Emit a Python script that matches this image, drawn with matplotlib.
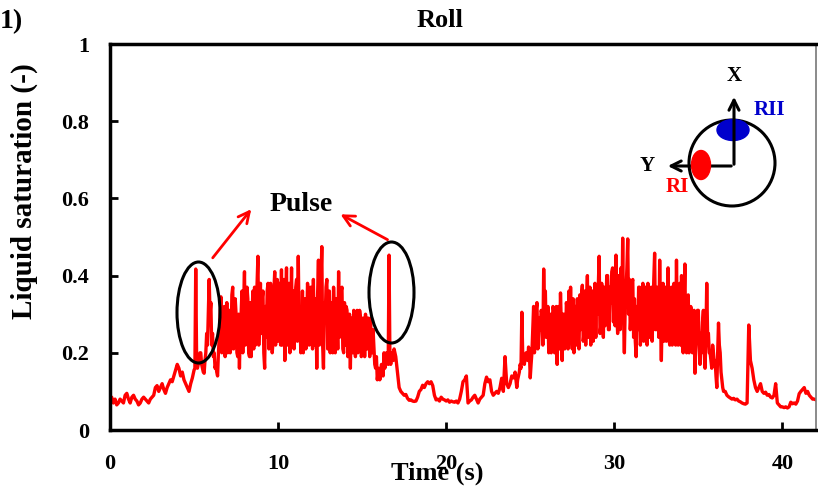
import numpy as np
import matplotlib
matplotlib.use('Agg')
import matplotlib.pyplot as plt
from matplotlib.patches import Ellipse, Circle

plt.rcParams['font.family'] = ['Liberation Serif', 'DejaVu Serif']
plt.rcParams['font.weight'] = 'bold'

# liquid saturation; quiet parts every 0.1 s,
# the two noisy humps every 0.05 s
quiet1_t0, quiet1_dt = 0.0, 0.1
quiet1 = [
    0.075, 0.085, 0.07, 0.08, 0.065, 0.07, 0.08, 0.075, 0.07, 0.09,
    0.095, 0.08, 0.07, 0.085, 0.09, 0.08, 0.075, 0.065, 0.07, 0.08,
    0.085, 0.08, 0.075, 0.07, 0.08, 0.085, 0.09, 0.11, 0.115, 0.10,
    0.11, 0.12, 0.105, 0.095, 0.11, 0.12, 0.13, 0.125, 0.14, 0.155,
    0.17, 0.16, 0.14, 0.15, 0.13, 0.12, 0.11, 0.10, 0.12, 0.135,
]
hump1_t0, hump1_dt = 5.0, 0.05
hump1 = [
    0.155, 0.16, 0.417, 0.2, 0.16, 0.17, 0.18, 0.2, 0.2, 0.17, 0.16, 0.15, 0.147, 0.18, 0.2, 0.25, 0.22, 0.30, 0.39, 0.30,
    0.33, 0.22, 0.25, 0.19, 0.2, 0.16, 0.17, 0.15, 0.14, 0.2, 0.24, 0.3, 0.345, 0.2, 0.21, 0.3, 0.32, 0.19, 0.25, 0.33,
    0.2, 0.3, 0.31, 0.2, 0.22, 0.35, 0.37, 0.21, 0.26, 0.34, 0.3, 0.2, 0.19, 0.3, 0.16, 0.26, 0.3, 0.36, 0.2, 0.32,
    0.41, 0.22, 0.25, 0.37, 0.34, 0.2, 0.19, 0.33, 0.19, 0.3, 0.36, 0.21, 0.37, 0.22, 0.26, 0.38, 0.45, 0.22, 0.3, 0.38,
    0.25, 0.34, 0.36, 0.2, 0.16, 0.32, 0.24, 0.36, 0.38, 0.21, 0.26, 0.38, 0.33, 0.2, 0.23, 0.36, 0.41, 0.22, 0.28, 0.39,
    0.23, 0.33, 0.38, 0.22, 0.415, 0.22, 0.25, 0.39, 0.18, 0.32, 0.42, 0.22, 0.3, 0.38, 0.2, 0.3, 0.42, 0.22, 0.36, 0.21,
    0.26, 0.37, 0.39, 0.23, 0.45, 0.27, 0.3, 0.2, 0.24, 0.36, 0.2, 0.33, 0.34, 0.21, 0.25, 0.38, 0.36, 0.22, 0.3, 0.37,
    0.33, 0.21, 0.39, 0.24, 0.22, 0.34, 0.16, 0.35, 0.44, 0.22, 0.3, 0.39, 0.475, 0.22, 0.16, 0.33, 0.28, 0.37, 0.39, 0.21,
    0.26, 0.36, 0.2, 0.32, 0.33, 0.2, 0.37, 0.3, 0.2, 0.34, 0.3, 0.21, 0.41, 0.24, 0.25, 0.36, 0.37, 0.21, 0.2, 0.33,
    0.22, 0.32, 0.31, 0.19, 0.24, 0.3, 0.16, 0.29, 0.27, 0.2, 0.31, 0.28, 0.19, 0.3, 0.31, 0.2, 0.22, 0.31, 0.29, 0.19,
    0.2, 0.29, 0.28, 0.19, 0.3, 0.22, 0.21, 0.29, 0.26, 0.19, 0.29, 0.21, 0.2, 0.26, 0.215, 0.17, 0.16, 0.19, 0.13, 0.15,
    0.16, 0.13, 0.14, 0.17, 0.15, 0.14, 0.2, 0.16, 0.18, 0.2, 0.2, 0.17, 0.453, 0.2, 0.17, 0.19, 0.2, 0.18, 0.21, 0.2,
]
quiet2_t0, quiet2_dt = 17.0, 0.1
quiet2 = [
    0.19, 0.15, 0.11, 0.1, 0.095, 0.09, 0.092, 0.082, 0.077, 0.078,
    0.075, 0.074, 0.075, 0.085, 0.1, 0.105, 0.116, 0.11, 0.12, 0.125,
    0.12, 0.125, 0.115, 0.09, 0.078, 0.08, 0.075, 0.085, 0.08, 0.078,
    0.075, 0.078, 0.072, 0.075, 0.073, 0.072, 0.075, 0.07, 0.08, 0.1,
    0.125, 0.13, 0.14, 0.07, 0.075, 0.078, 0.085, 0.09, 0.08, 0.07,
    0.08, 0.085, 0.09, 0.12, 0.137, 0.125, 0.13, 0.1, 0.09, 0.095,
    0.1, 0.095, 0.11, 0.134, 0.1, 0.19, 0.12, 0.11, 0.12, 0.14,
]
hump2_t0, hump2_dt = 24.0, 0.05
hump2 = [
    0.135, 0.14, 0.15, 0.13, 0.11, 0.13, 0.14, 0.15, 0.17, 0.16, 0.305, 0.2, 0.18, 0.17, 0.19, 0.2, 0.2, 0.18, 0.215, 0.2,
    0.135, 0.17, 0.2, 0.26, 0.32, 0.2, 0.25, 0.31, 0.33, 0.21, 0.22, 0.29, 0.26, 0.31, 0.3, 0.22, 0.417, 0.3, 0.36, 0.24,
    0.25, 0.32, 0.2, 0.27, 0.3, 0.2, 0.24, 0.32, 0.31, 0.2, 0.26, 0.32, 0.17, 0.27, 0.32, 0.21, 0.355, 0.27, 0.18, 0.3,
    0.3, 0.21, 0.22, 0.33, 0.31, 0.21, 0.36, 0.24, 0.37, 0.25, 0.21, 0.34, 0.2, 0.3, 0.32, 0.22, 0.34, 0.24, 0.21, 0.35,
    0.26, 0.35, 0.375, 0.23, 0.25, 0.36, 0.22, 0.33, 0.4, 0.24, 0.3, 0.37, 0.22, 0.32, 0.36, 0.23, 0.34, 0.38, 0.24, 0.37,
    0.3, 0.38, 0.45, 0.25, 0.27, 0.38, 0.32, 0.24, 0.37, 0.27, 0.3, 0.4, 0.4, 0.26, 0.26, 0.37, 0.33, 0.41, 0.42, 0.28,
    0.36, 0.27, 0.453, 0.3, 0.25, 0.4, 0.38, 0.26, 0.42, 0.3, 0.497, 0.29, 0.2, 0.32, 0.36, 0.42, 0.495, 0.3, 0.39, 0.26,
    0.3, 0.38, 0.39, 0.24, 0.34, 0.23, 0.19, 0.32, 0.26, 0.37, 0.37, 0.22, 0.25, 0.35, 0.38, 0.23, 0.27, 0.37, 0.31, 0.22,
    0.38, 0.25, 0.24, 0.36, 0.37, 0.23, 0.3, 0.39, 0.458, 0.26, 0.26, 0.37, 0.36, 0.24, 0.44, 0.28, 0.18, 0.3, 0.38, 0.23,
    0.3, 0.37, 0.23, 0.32, 0.42, 0.24, 0.22, 0.33, 0.37, 0.22, 0.3, 0.38, 0.37, 0.22, 0.44, 0.27, 0.22, 0.33, 0.38, 0.22,
    0.4, 0.22, 0.2, 0.33, 0.43, 0.22, 0.2, 0.3, 0.35, 0.2, 0.28, 0.32, 0.3, 0.2, 0.25, 0.31, 0.147, 0.22, 0.27, 0.31,
    0.31, 0.22, 0.17, 0.25, 0.2, 0.28, 0.31, 0.2, 0.16, 0.24, 0.38, 0.25, 0.25, 0.2, 0.2, 0.18, 0.16, 0.22, 0.2, 0.17,
    0.18, 0.14, 0.11, 0.2, 0.277, 0.22, 0.2, 0.15, 0.13, 0.11,
]
quiet3_t0, quiet3_dt = 36.5, 0.1
quiet3 = [
    0.1, 0.1, 0.09, 0.086, 0.083,
    0.08, 0.082, 0.078, 0.08, 0.075, 0.073, 0.07, 0.068, 0.067, 0.07,
    0.272, 0.18, 0.16, 0.13, 0.11, 0.1, 0.11, 0.12, 0.1, 0.095,
    0.098, 0.09, 0.092, 0.085, 0.083, 0.09, 0.12, 0.07, 0.065, 0.06,
    0.06, 0.058, 0.06, 0.057, 0.06, 0.072, 0.068, 0.07, 0.067, 0.075,
    0.094, 0.1, 0.105, 0.11, 0.095, 0.1, 0.09, 0.085, 0.08, 0.08,
    0.078,
]

segments = [
    (quiet1_t0, quiet1_dt, quiet1),
    (hump1_t0, hump1_dt, hump1),
    (quiet2_t0, quiet2_dt, quiet2),
    (hump2_t0, hump2_dt, hump2),
    (quiet3_t0, quiet3_dt, quiet3),
]
time_s = np.concatenate([t0 + dt * np.arange(len(v)) for t0, dt, v in segments])
saturation = np.concatenate([np.array(v) for _, _, v in segments])

x_ticks = [0, 10, 20, 30, 40]
y_ticks = [0, 0.2, 0.4, 0.6, 0.8, 1.0]
y_tick_labels = ['0', '0.2', '0.4', '0.6', '0.8', '1']

fig = plt.figure(figsize=(8.18, 4.98), dpi=100)
ax = fig.add_axes([110 / 818, 1 - 430 / 498, 706 / 818, 386 / 498])
ax.plot(time_s, saturation, color='#ff0000', lw=2.4)
ax.set_xlim(0, 42)
ax.set_ylim(0, 1)
ax.set_xticks(x_ticks)
ax.set_yticks(y_ticks)
ax.set_yticklabels(y_tick_labels)
ax.tick_params(direction='in', length=6, width=2, labelsize=16)
ax.tick_params(axis='x', pad=17)
ax.tick_params(axis='y', pad=15)
for lab in ax.get_xticklabels() + ax.get_yticklabels():
    lab.set_fontweight('bold')
for side in ['left', 'top', 'bottom']:
    ax.spines[side].set_linewidth(2.5)
ax.spines['right'].set_color('#777777')
ax.spines['right'].set_linewidth(1.2)

fig.text(440 / 818, 1 - 20 / 498, 'Roll', ha='center', va='center', fontsize=19, fontweight='bold')
fig.text(0, 1 - 22 / 498, '1)', ha='left', va='center', fontsize=20, fontweight='bold')
fig.text(24 / 818, 1 - 191 / 498, 'Liquid saturation (-)', rotation=90, ha='center', va='center',
         fontsize=21, fontweight='bold')
fig.text(437 / 818, 1 - 473 / 498, 'Time (s)', ha='center', va='center', fontsize=19, fontweight='bold')

# overlay in figure pixels for annotations and the sketch
ov = fig.add_axes([0, 0, 1, 1], facecolor='none')
ov.set_xlim(0, 818)
ov.set_ylim(498, 0)
ov.axis('off')

ov.text(301, 204, 'Pulse', ha='center', va='center', fontsize=20, fontweight='bold')
arrow_red = dict(arrowstyle='->', color='#ff0000', lw=2, mutation_scale=20)
ov.annotate('', xy=(253, 207), xytext=(211, 260), arrowprops=arrow_red)
ov.annotate('', xy=(338, 213), xytext=(390, 241), arrowprops=arrow_red)
ov.add_patch(Ellipse((198.5, 312.5), 43, 101, fill=False, ec='black', lw=2.2))
ov.add_patch(Ellipse((391.5, 292.5), 45, 101, fill=False, ec='black', lw=2.2))

# pipe cross-section sketch
ov.add_patch(Circle((732, 163), 43, fill=False, ec='black', lw=2.2))
arrow_blk = dict(arrowstyle='->', color='black', lw=2.2, mutation_scale=18)
ov.annotate('', xy=(665, 166), xytext=(734, 166), arrowprops=arrow_blk)
ov.add_patch(Ellipse((701, 165), 19, 29, color='#ff0000', zorder=3))
ov.add_patch(Ellipse((733, 130), 32, 21, color='#0000cc', zorder=3))
ov.annotate('', xy=(734, 94), xytext=(734, 167), arrowprops=arrow_blk, zorder=4)
ov.text(734, 76, 'X', ha='center', va='center', fontsize=15, fontweight='bold')
ov.text(647, 166, 'Y', ha='center', va='center', fontsize=15, fontweight='bold')
ov.text(769, 110, 'RII', ha='center', va='center', fontsize=15, fontweight='bold', color='#0000cc')
ov.text(677, 187, 'RI', ha='center', va='center', fontsize=15, fontweight='bold', color='#ff0000')

fig.savefig('out.png', dpi=100)
